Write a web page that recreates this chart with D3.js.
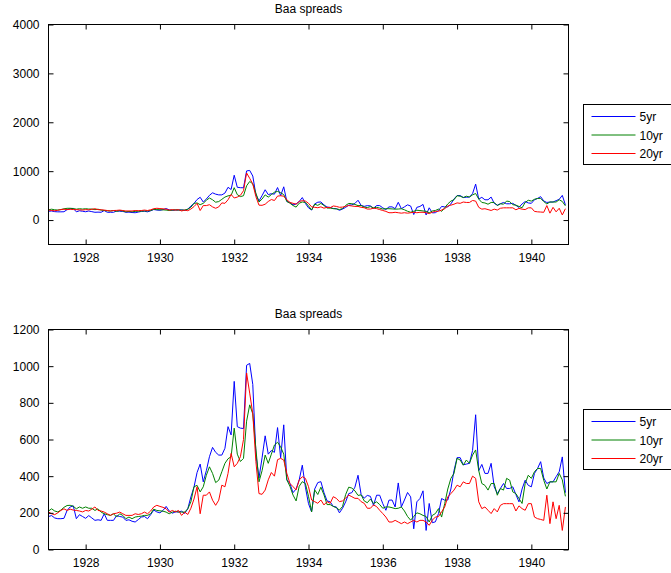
<!DOCTYPE html>
<html>
<head>
<meta charset="utf-8">
<script src="https://cdn.jsdelivr.net/npm/d3@7"></script>
<style>
  body { margin: 0; background: #fff; }
  text { font-family: "Liberation Sans", Arial, Helvetica, sans-serif; font-size: 12px; fill: #000; }
</style>
</head>
<body>
<div id="chart"></div>
<script>
// series + axis data
var seriesNames = ["5yr", "10yr", "20yr"];
var seriesColors = ["#0000ff", "#008000", "#ff0000"];
var startYear = 1927;   // monthly, Jan 1927 - Dec 1940
var xTickYears = [1928, 1930, 1932, 1934, 1936, 1938, 1940];
var topYTicks = [0, 1000, 2000, 3000, 4000];
var bottomYTicks = [0, 200, 400, 600, 800, 1000, 1200];

var spread5yr = [
  180,185,172,168,168,170,213,232,238,168,190,180,
  170,185,172,159,162,159,195,159,159,159,185,180,
  177,159,162,154,150,163,177,180,168,190,215,205,
  200,213,235,210,198,205,205,209,197,222,287,340,
  420,466,369,430,506,557,530,515,515,552,670,625,
  917,670,662,660,1005,1015,900,520,390,500,620,520,
  540,530,665,500,680,380,360,310,330,380,460,340,
  250,205,330,365,370,310,265,260,235,232,200,225,
  260,305,310,340,405,300,280,295,290,241,296,296,
  250,214,269,270,232,363,232,270,311,287,113,260,
  278,320,104,251,146,151,196,278,269,270,330,430,
  501,501,462,466,470,540,735,430,464,415,415,470,
  342,305,333,360,333,333,342,300,260,330,378,350,
  342,415,442,479,390,360,369,369,397,424,505,310
];

var spread10yr = [
  210,222,210,205,215,230,240,241,236,222,232,225,
  232,225,225,213,222,204,195,190,186,195,177,195,
  186,168,177,168,177,180,182,186,186,195,220,213,
  211,209,204,195,204,209,204,204,204,222,260,342,
  350,314,342,405,451,415,365,378,424,470,495,506,
  662,520,480,497,700,789,740,550,369,430,515,470,
  520,570,585,560,520,380,345,297,265,345,370,360,
  290,205,325,300,340,298,245,245,235,228,215,235,
  300,340,335,320,295,298,265,255,275,251,260,245,
  225,232,232,228,223,225,232,210,180,160,180,200,
  195,186,180,150,186,196,223,177,250,330,388,415,
  497,488,460,488,470,515,543,430,360,350,324,360,
  360,296,333,324,388,378,314,305,278,251,360,405,
  388,424,442,442,378,330,369,369,369,415,380,290
];

var spread20yr = [
  205,195,190,200,213,222,213,220,215,213,210,205,
  213,210,220,232,213,210,204,195,186,195,198,204,
  195,186,186,186,195,191,195,204,195,210,232,241,
  235,230,222,204,213,205,213,186,204,191,225,275,
  342,195,296,296,314,269,241,269,351,342,415,524,
  451,470,506,600,963,853,740,480,305,301,324,380,
  420,400,490,497,488,415,360,343,325,379,397,388,
  343,270,261,252,270,243,261,252,288,279,261,265,
  280,297,288,279,279,261,252,225,225,243,234,214,
  196,177,150,150,159,150,141,150,141,150,159,150,
  159,159,150,132,160,177,180,205,232,287,305,324,
  351,342,369,360,360,400,388,260,223,232,214,196,
  223,205,241,250,250,250,250,210,238,223,214,250,
  250,177,168,164,159,296,141,260,168,241,104,232
];

var allSeries = [spread5yr, spread10yr, spread20yr];

// svg container
var svgWidth = 671;
var svgHeight = 573;

var svg = d3.select("#chart")
  .append("svg")
  .attr("width", svgWidth)
  .attr("height", svgHeight);

// axes box size (same for both panels)
var plotLeft = 48.5;
var plotWidth = 520;
var plotHeight = 220;
var tickLen = 5;

var xScale = d3.scaleLinear()
  .domain([1927, 1941])
  .range([0, plotWidth]);

function drawPanel(top, yDomain, yTicks, legendTop) {
  var g = svg.append("g")
    .attr("transform", `translate(${plotLeft}, ${top})`);

  var yScale = d3.scaleLinear()
    .domain(yDomain)
    .range([plotHeight, 0]);

  g.append("defs").append("clipPath")
    .attr("id", "clip" + Math.round(top))
    .append("rect")
    .attr("width", plotWidth)
    .attr("height", plotHeight);

  var line = d3.line()
    .x((d, i) => xScale(startYear + i / 12))
    .y(d => yScale(d));

  var lines = g.append("g").attr("clip-path", `url(#clip${Math.round(top)})`);
  allSeries.forEach(function(s, j) {
    lines.append("path")
      .datum(s)
      .attr("d", line)
      .attr("fill", "none")
      .attr("stroke", seriesColors[j])
      .attr("stroke-width", 1);
  });

  // matlab style ticks: inward, all four sides
  var bottomAxis = d3.axisBottom(xScale).tickValues(xTickYears).tickFormat(d3.format("d"))
    .tickSizeInner(-tickLen).tickSizeOuter(0).tickPadding(9);
  var topAxis = d3.axisTop(xScale).tickValues(xTickYears).tickFormat("")
    .tickSizeInner(-tickLen).tickSizeOuter(0);
  var leftAxis = d3.axisLeft(yScale).tickValues(yTicks).tickFormat(d3.format("d"))
    .tickSizeInner(-tickLen).tickSizeOuter(0).tickPadding(9);
  var rightAxis = d3.axisRight(yScale).tickValues(yTicks).tickFormat("")
    .tickSizeInner(-tickLen).tickSizeOuter(0);

  g.append("g").attr("transform", `translate(0, ${plotHeight})`).call(bottomAxis);
  g.append("g").call(topAxis);
  g.append("g").call(leftAxis);
  g.append("g").attr("transform", `translate(${plotWidth}, 0)`).call(rightAxis);

  g.selectAll(".domain").remove();
  g.selectAll(".tick line").attr("stroke", "#000");
  g.selectAll(".tick text")
    .style("font-family", "'Liberation Sans', Arial, sans-serif")
    .style("font-size", "12px")
    .attr("fill", "#000");

  // box
  g.append("rect")
    .attr("width", plotWidth)
    .attr("height", plotHeight)
    .attr("fill", "none")
    .attr("stroke", "#000")
    .attr("stroke-width", 1);

  // title
  g.append("text")
    .attr("x", plotWidth / 2)
    .attr("y", -12)
    .attr("text-anchor", "middle")
    .text("Baa spreads");

  // legend
  var lg = svg.append("g")
    .attr("transform", `translate(583.5, ${legendTop})`);
  lg.append("rect")
    .attr("width", 95)
    .attr("height", 60)
    .attr("fill", "#fff")
    .attr("stroke", "#000");
  seriesNames.forEach(function(name, j) {
    var yy = 12 + j * 18.5;
    lg.append("line")
      .attr("x1", 8).attr("x2", 52)
      .attr("y1", yy).attr("y2", yy)
      .attr("stroke", seriesColors[j]);
    lg.append("text")
      .attr("x", 56)
      .attr("y", yy + 4.5)
      .text(name);
  });
}

drawPanel(24.5, [-500, 4000], topYTicks, 104.5);
drawPanel(329.5, [0, 1200], bottomYTicks, 409.5);
</script>
</body>
</html>
